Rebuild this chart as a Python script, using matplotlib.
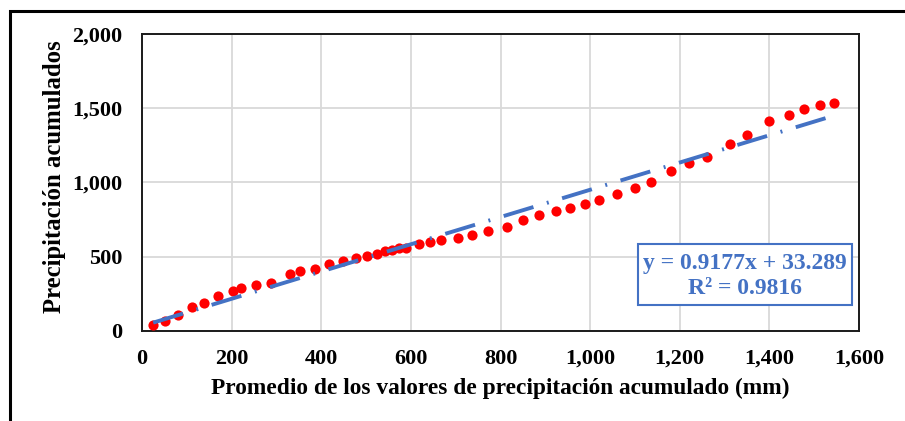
import matplotlib
matplotlib.use('agg')
import matplotlib.pyplot as plt
from matplotlib.patches import Rectangle
import numpy as np

# promedio acumulado (mm) vs precipitación acumulada
x_prom = [25, 51, 81, 111, 138, 170, 202, 221, 255, 287, 330, 353, 385, 418,
          448, 478, 501, 524, 542, 557, 574, 589, 619, 643, 668, 705, 736, 772,
          815, 850, 887, 924, 955, 989, 1020, 1060, 1100, 1136, 1180, 1220,
          1260, 1311, 1351, 1400, 1444, 1478, 1512, 1544]
y_acum = [40, 67, 110, 160, 191, 233, 272, 287, 307, 321, 384, 402, 420, 453,
          469, 494, 505, 521, 541, 548, 557, 561, 586, 599, 615, 626, 646, 675,
          702, 745, 779, 806, 826, 853, 882, 923, 961, 1003, 1080, 1133,
          1169, 1259, 1320, 1414, 1455, 1497, 1524, 1533]

slope = 0.9177
intercept = 33.289
r2 = 0.9816

xticks = [0, 200, 400, 600, 800, 1000, 1200, 1400, 1600]
yticks = [0, 500, 1000, 1500, 2000]

blue = '#4472C4'
serif = ['Liberation Serif', 'DejaVu Serif']

fig = plt.figure(figsize=(9.05, 4.21), dpi=100)
ax = fig.add_axes([0.1569, 0.2138, 0.7923, 0.7055])

ax.scatter(x_prom, y_acum, s=54, color='#FF0000', zorder=3, linewidths=0)

xl = np.array([min(x_prom), max(x_prom)])
ax.plot(xl, slope * xl + intercept, color=blue, lw=2.8,
        linestyle=(0, (8, 3.6, 0.5, 3.6)), dash_capstyle='butt', zorder=4)

ax.set_xlim(0, 1600)
ax.set_ylim(0, 2000)
ax.set_xticks(xticks)
ax.set_yticks(yticks)
ax.set_xticklabels([f'{v:,}' for v in xticks], fontsize=16, fontweight='bold', family=serif)
ax.set_yticklabels([f'{v:,}' for v in yticks], fontsize=16, fontweight='bold', family=serif)
ax.tick_params(axis='y', length=0, pad=14)
ax.tick_params(axis='x', length=0, pad=13)
ax.grid(True, color='#D9D9D9', lw=1.3, zorder=0)
ax.set_axisbelow(True)
for s in ax.spines.values():
    s.set_color('#1a1a1a')
    s.set_linewidth(1.4)

ax.set_xlabel('Promedio de los valores de precipitación acumulado (mm)',
              fontsize=16.8, fontweight='bold', family=serif, labelpad=6)
ax.set_ylabel('Precipitación acumulados', fontsize=17.8, fontweight='bold', family=serif)
ax.yaxis.set_label_coords(-0.106, 0.52)

# cuadro de la ecuación de tendencia
ax.add_patch(Rectangle((0.6922, 0.0875), 0.2976, 0.2054, transform=ax.transAxes,
                       fc='white', ec=blue, lw=1.5, zorder=5))
ax.text(0.841, 0.186, f'y = {slope}x + {intercept}\nR² = {r2}',
        transform=ax.transAxes, ha='center', va='center', color=blue,
        fontsize=17, fontweight='bold', family=serif, linespacing=1.25,
        zorder=6)

fig.add_artist(Rectangle((0.011, -0.1), 1.2, 1.0739, transform=fig.transFigure,
                         fill=False, ec='black', lw=2.2))

fig.savefig('out.png', dpi=100)
